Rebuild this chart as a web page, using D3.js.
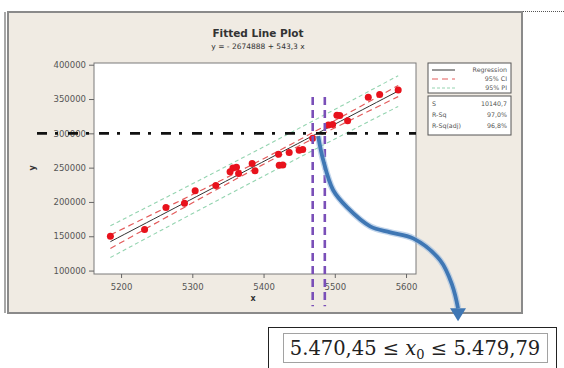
<!DOCTYPE html>
<html><head><meta charset="utf-8">
<script src="https://cdn.jsdelivr.net/npm/d3@7"></script>
<style>html,body{margin:0;padding:0;background:#fff;}svg{display:block;}</style>
</head><body>
<svg id="c" width="564" height="368"></svg>
<script>
// ---- data ----
const xs = [5185, 5233, 5263, 5289, 5304, 5333, 5353, 5357, 5362, 5365, 5384, 5388, 5421, 5422, 5427, 5436, 5450, 5455, 5469, 5491, 5497, 5503, 5507, 5518, 5547, 5563, 5589];
const ys = [150000, 160000, 192000, 198000, 216500, 224000, 244000, 249500, 250500, 241500, 256000, 245500, 269500, 253500, 254000, 272000, 275500, 276500, 293000, 312000, 313000, 326500, 326000, 318500, 352500, 356500, 363000];
const xTicks = [5200, 5300, 5400, 5500, 5600];
const yTicks = [100000, 150000, 200000, 250000, 300000, 350000, 400000];
const intercept = -2674888, slope = 543.3;
const statNames = ["S", "R-Sq", "R-Sq(adj)"];
const statValues = ["10140,7", "97,0%", "96,8%"];
const sValue = 10140.7;
const legendNames = ["Regression", "95% CI", "95% PI"];
const refY = 300000;                 // horizontal dash-dot line
const refXs = [5469, 5486];          // vertical purple dashed lines
const arrowPath = [[5476.7,296000],[5483.7,261000],[5497.8,217000],[5517.4,192000],[5549.7,164500],[5577.8,155700],[5610,146900],[5648,114800],[5665,78200],[5673,45000]];
const boxText = ["5.470,45 ≤ ", "x", "0", " ≤ 5.479,79"];

const svg = d3.select("#c");
const font = "DejaVu Sans, Verdana, sans-serif";

// top dotted rule
svg.append("line").attr("x1",7).attr("x2",564).attr("y1",11.5).attr("y2",11.5)
  .attr("stroke","#555").attr("stroke-width",1).attr("stroke-dasharray","1,1");

// frame
svg.append("rect").attr("x",8).attr("y",12).attr("width",514).attr("height",301)
  .attr("fill","#f0ebe3").attr("stroke","#8a8a8a").attr("stroke-width",2);
svg.append("line").attr("x1",5).attr("x2",5).attr("y1",12).attr("y2",313).attr("stroke","#8a8a8a").attr("stroke-width",1.5);

const x = d3.scaleLinear().domain([5162, 5614]).range([94, 416]);
const y = d3.scaleLinear().domain([95000, 402500]).range([274, 63]);

// plot area
svg.append("rect").attr("x",94).attr("y",63).attr("width",322).attr("height",211)
  .attr("fill","#fff").attr("stroke","#7a7a7a").attr("stroke-width",1);

// title
svg.append("text").attr("x",258).attr("y",37).attr("text-anchor","middle")
  .attr("font-family",font).attr("font-weight","bold").attr("font-size",10.5).attr("fill","#333").text("Fitted Line Plot");
svg.append("text").attr("x",258).attr("y",49).attr("text-anchor","middle")
  .attr("font-family",font).attr("font-size",7.5).attr("fill","#333").text("y =  - 2674888 + 543,3 x");

// axes
const ax = svg.append("g").attr("transform","translate(0,274)")
  .call(d3.axisBottom(x).tickValues(xTicks).tickSize(4).tickSizeOuter(0).tickFormat(d3.format("d")));
const ay = svg.append("g").attr("transform","translate(94,0)")
  .call(d3.axisLeft(y).tickValues(yTicks).tickSize(5).tickSizeOuter(0).tickFormat(d3.format("d")));
[ax, ay].forEach(g=>{
  g.select(".domain").remove();
  g.selectAll(".tick line").attr("stroke","#666");
  g.selectAll("text").attr("font-family",font).attr("font-size",8.5).attr("fill","#555");
});
ax.selectAll("text").attr("dy","1.0em");
svg.append("text").attr("x",253).attr("y",301).attr("text-anchor","middle")
  .attr("font-family",font).attr("font-weight","bold").attr("font-size",8).attr("fill","#333").text("x");
svg.append("text").attr("transform","translate(35,168) rotate(-90)").attr("text-anchor","middle")
  .attr("font-family",font).attr("font-weight","bold").attr("font-size",8).attr("fill","#333").text("y");

// regression and bands
const n = xs.length, xbar = d3.mean(xs);
const sxx = d3.sum(xs, v => (v - xbar) ** 2);
const tval = 2.06;
const x0 = d3.min(xs), x1 = d3.max(xs);
const grid = d3.range(0, 41).map(i => x0 + (x1 - x0) * i / 40);
const fit = v => intercept + slope * v;
const ci = v => tval * sValue * Math.sqrt(1 / n + (v - xbar) ** 2 / sxx);
const pi = v => tval * sValue * Math.sqrt(1 + 1 / n + (v - xbar) ** 2 / sxx);
const ln = d3.line().x(d => x(d[0])).y(d => y(d[1]));
const plot = svg.append("g");
[1, -1].forEach(s =>
  plot.append("path").attr("d", ln(grid.map(v => [v, fit(v) + s * pi(v)]))).attr("fill","none")
    .attr("stroke", "#94d4b0").attr("stroke-dasharray", "4,3").attr("stroke-width", 1.1));
[1, -1].forEach(s =>
  plot.append("path").attr("d", ln(grid.map(v => [v, fit(v) + s * ci(v)]))).attr("fill","none")
    .attr("stroke", "#e35a5a").attr("stroke-dasharray", "6,4").attr("stroke-width", 1.2));
plot.append("path").attr("d", ln(grid.map(v => [v, fit(v)]))).attr("fill","none")
  .attr("stroke","#333").attr("stroke-width",1);

// points
plot.selectAll("circle").data(xs.map((v,i)=>[v, ys[i]])).join("circle")
  .attr("cx", d => x(d[0])).attr("cy", d => y(d[1])).attr("r", 3.5).attr("fill", "#e8121c");

// horizontal dash-dot line
svg.append("line").attr("x1", x(5082)).attr("x2", x(5614)).attr("y1", y(refY)).attr("y2", y(refY))
  .attr("stroke","#111").attr("stroke-width",2.6).attr("stroke-dasharray","10,8,3,10");

// vertical purple dashed lines
refXs.forEach(v => svg.append("line").attr("x1", x(v)).attr("x2", x(v)).attr("y1", y(353000)).attr("y2", y(48000))
  .attr("stroke","#7a4fb8").attr("stroke-width",2.6).attr("stroke-dasharray","8,5"));

// blue curved arrow
const ap = d3.line().x(d => x(d[0])).y(d => y(d[1])).curve(d3.curveCatmullRom);
svg.append("path").attr("d", ap(arrowPath)).attr("fill","none").attr("stroke","#9bbbe0").attr("stroke-width",6.5).attr("opacity",0.6);
svg.append("path").attr("d", ap(arrowPath)).attr("fill","none").attr("stroke","#3f77b4").attr("stroke-width",3.8);
const tip = arrowPath[arrowPath.length - 1];
const tx = x(tip[0]), ty = y(tip[1]);
svg.append("path").attr("d", `M${tx-8},${ty} L${tx+8},${ty} L${tx},${ty+13} Z`).attr("fill","#3f77b4");

// legend
const lg = svg.append("g");
lg.append("rect").attr("x",428).attr("y",63).attr("width",83).attr("height",30).attr("fill","#fff").attr("stroke","#555");
const lstyles = [["#333","none"],["#e35a5a","6,4"],["#94d4b0","3,2"]];
legendNames.forEach((nm,i)=>{
  const yy = 70 + i*9;
  lg.append("line").attr("x1",432).attr("x2",455).attr("y1",yy).attr("y2",yy)
    .attr("stroke",lstyles[i][0]).attr("stroke-dasharray",lstyles[i][1]).attr("stroke-width",1);
  lg.append("text").attr("x",507).attr("y",yy+2.3).attr("text-anchor","end").attr("font-family",font)
    .attr("font-size",6.3).attr("fill","#555").text(nm);
});
lg.append("rect").attr("x",428).attr("y",96).attr("width",83).attr("height",39).attr("fill","#fff").attr("stroke","#555");
statNames.forEach((nm,i)=>{
  const yy = 106 + i*11;
  lg.append("text").attr("x",432).attr("y",yy).attr("font-family",font).attr("font-size",6.3).attr("fill","#555").text(nm);
  lg.append("text").attr("x",507).attr("y",yy).attr("text-anchor","end").attr("font-family",font).attr("font-size",6.3).attr("fill","#555").text(statValues[i]);
});

// bottom result box
svg.append("rect").attr("x",268.5).attr("y",327.5).attr("width",288).attr("height",42).attr("fill","#fff").attr("stroke","#222").attr("stroke-width",1);
svg.append("rect").attr("x",283.5).attr("y",333.5).attr("width",264).attr("height",29).attr("fill","#fff").attr("stroke","#444").attr("stroke-width",1).attr("stroke-dasharray","1,1");
const bt = svg.append("text").attr("x",415).attr("y",355).attr("text-anchor","middle")
  .attr("font-family","DejaVu Serif, Liberation Serif, serif").attr("font-size",19.5).attr("fill","#222");
bt.append("tspan").text(boxText[0]);
bt.append("tspan").attr("font-style","italic").text(boxText[1]);
bt.append("tspan").attr("font-size",13).attr("dy",4).text(boxText[2]);
bt.append("tspan").attr("dy",-4).text(boxText[3]);
</script>
</body></html>
